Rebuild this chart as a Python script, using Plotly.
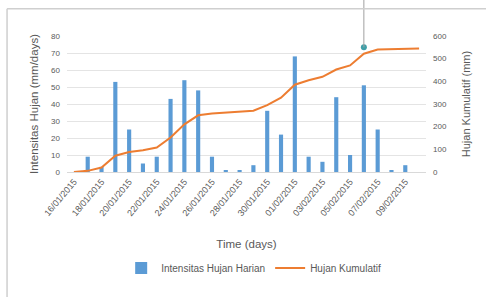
import plotly.graph_objects as go

dates = ["16/01/2015", "17/01/2015", "18/01/2015", "19/01/2015", "20/01/2015", "21/01/2015",
         "22/01/2015", "23/01/2015", "24/01/2015", "25/01/2015", "26/01/2015", "27/01/2015",
         "28/01/2015", "29/01/2015", "30/01/2015", "31/01/2015", "01/02/2015", "02/02/2015",
         "03/02/2015", "04/02/2015", "05/02/2015", "06/02/2015", "07/02/2015", "08/02/2015",
         "09/02/2015", "10/02/2015"]
daily_rain = [0, 9, 3, 53, 25, 5, 9, 43, 54, 48, 9, 1, 1, 4, 36, 22, 68, 9, 6, 44, 10, 51, 25, 1, 4, 0]
cumulative_rain = [0, 5, 20, 72, 88, 96, 108, 152, 210, 250, 258, 262, 265, 270, 295, 328, 385,
                   405, 420, 452, 470, 522, 540, 542, 544, 545]
tick_dates = dates[0:25:2]
marker_date = ["06/02/2015"]
marker_value = [550]

grey = "#595959"
font = "Liberation Sans"

fig = go.Figure()
fig.add_trace(go.Bar(x=dates, y=daily_rain, name="Intensitas Hujan Harian",
                     marker=dict(color="#5B9BD5", line=dict(width=0)), yaxis="y"))
fig.add_trace(go.Scatter(x=dates, y=cumulative_rain, name="Hujan Kumulatif", mode="lines",
                         line=dict(color="#ED7D31", width=2), yaxis="y2"))
fig.add_trace(go.Scatter(x=marker_date, y=marker_value, mode="markers", showlegend=False,
                         marker=dict(color="#3f9fa8", size=6), yaxis="y2"))

fig.add_shape(type="line", xref="x", yref="paper", x0=marker_date[0], x1=marker_date[0],
              y0=1.27, y1=1.0, line=dict(color="#a0a0a0", width=1))
fig.add_shape(type="line", xref="x", yref="y2", x0=marker_date[0], x1=marker_date[0],
              y0=600, y1=marker_value[0], line=dict(color="#a0a0a0", width=1))
# outer chart frame (top and left edges visible)
fig.add_shape(type="line", xref="paper", yref="paper", x0=-0.167, x1=1.2, y0=1.2, y1=1.2,
              line=dict(color="#cfcfcf", width=1.5))
fig.add_shape(type="line", xref="paper", yref="paper", x0=-0.167, x1=-0.167, y0=1.2, y1=-0.95,
              line=dict(color="#cfcfcf", width=1.5))

fig.update_layout(
    width=486, height=297,
    margin=dict(l=67, r=60, t=36, b=125, autoexpand=False),
    paper_bgcolor="white", plot_bgcolor="white",
    font=dict(family=font, color=grey, size=8),
    bargap=0.7,
    showlegend=True,
    legend=dict(orientation="h", x=0.52, xanchor="center", y=-0.706, yanchor="middle",
                font=dict(size=10, color=grey), itemwidth=30),
    xaxis=dict(type="category", tickmode="array", tickvals=tick_dates, ticktext=tick_dates,
               tickangle=-50, tickfont=dict(size=9, color=grey), showgrid=False, automargin=False,
               showline=True, linecolor="#d9d9d9", ticks="",
               title=dict(text="Time (days)", font=dict(size=11.5, color=grey), standoff=22)),
    yaxis=dict(range=[0, 80], dtick=10, showgrid=True, gridcolor="#e4e4e4", zeroline=False,
               automargin=False,
               tickfont=dict(size=8, color=grey), ticks="", ticklabelstandoff=6,
               title=dict(text="Intensitas Hujan (mm/days)", font=dict(size=11.5, color=grey), standoff=10)),
    yaxis2=dict(range=[0, 600], dtick=100, overlaying="y", side="right", showgrid=False,
                automargin=False,
                zeroline=False, tickfont=dict(size=8, color=grey), ticks="", ticklabelstandoff=6,
                title=dict(text="Hujan Kumulatif (mm)", font=dict(size=11, color=grey), standoff=16)),
)

fig.write_html("out.html", post_script="document.body.style.margin='0';",
               config={"displayModeBar": False})
